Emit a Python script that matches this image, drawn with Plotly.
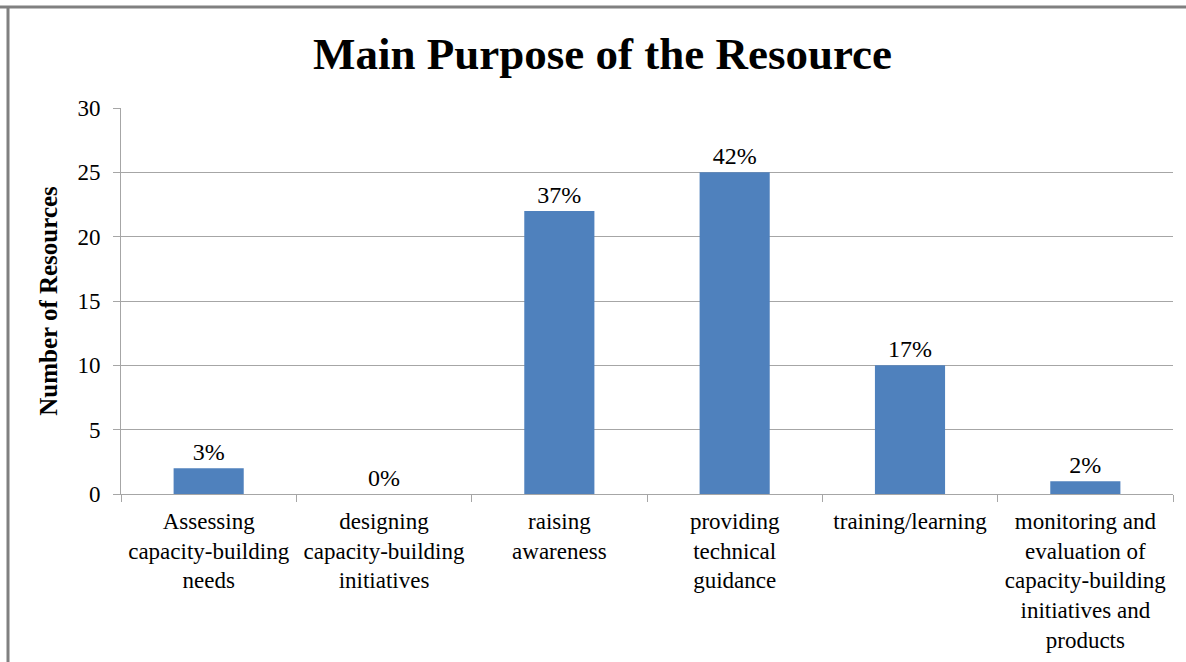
import plotly.graph_objects as go

categories = [
    "Assessing<br>capacity-building<br>needs",
    "designing<br>capacity-building<br>initiatives",
    "raising<br>awareness",
    "providing<br>technical<br>guidance",
    "training/learning",
    "monitoring and<br>evaluation of<br>capacity-building<br>initiatives and<br>products",
]
counts = [2, 0, 22, 25, 10, 1]
pct_labels = ["3%", "0%", "37%", "42%", "17%", "2%"]
y_ticks = [0, 5, 10, 15, 20, 25, 30]

FONT = "Liberation Serif, Times New Roman, serif"
GRID = "#a6a6a6"

fig = go.Figure(
    go.Bar(
        x=categories,
        y=counts,
        text=pct_labels,
        textposition="outside",
        textfont=dict(family=FONT, size=24, color="#000000"),
        marker=dict(color="#4F81BD", line=dict(width=0)),
        width=0.4,
        cliponaxis=False,
    )
)

fig.update_layout(
    width=1186,
    height=662,
    paper_bgcolor="white",
    plot_bgcolor="white",
    margin=dict(l=121, r=13, t=108, b=168),
    showlegend=False,
    font=dict(family=FONT, size=23, color="#000000"),
    title=dict(
        text="<b>Main Purpose of the Resource</b>",
        font=dict(family=FONT, size=45, color="#000000"),
        x=0.508,
        xref="container",
        xanchor="center",
        y=1 - 53 / 662,
        yref="container",
        yanchor="middle",
    ),
    xaxis=dict(
        showgrid=False,
        showline=True,
        linecolor=GRID,
        linewidth=1,
        ticks="outside",
        tickson="boundaries",
        ticklen=7,
        tickcolor=GRID,
        ticklabelstandoff=6,
        tickfont=dict(family=FONT, size=23, color="#000000"),
        tickangle=0,
        automargin=False,
    ),
    yaxis=dict(
        range=[0, 30],
        tickvals=y_ticks,
        showgrid=True,
        gridcolor=GRID,
        gridwidth=1,
        showline=True,
        linecolor=GRID,
        linewidth=1,
        zeroline=False,
        ticks="outside",
        ticklen=7,
        tickcolor=GRID,
        ticklabelstandoff=8,
        tickfont=dict(family=FONT, size=23, color="#000000"),
        automargin=False,
        title=dict(
            text="<b>Number of Resources</b>",
            font=dict(family=FONT, size=25, color="#000000"),
            standoff=12,
        ),
    ),
    bargap=0.6,
    shapes=[
        dict(
            type="line", xref="paper", yref="paper",
            x0=-0.2, x1=1.2,
            y0=1 + (108 - 7) / 386, y1=1 + (108 - 7) / 386,
            line=dict(color="#808080", width=3),
        ),
        dict(
            type="line", xref="paper", yref="paper",
            x0=(8 - 121) / 1052, x1=(8 - 121) / 1052,
            y0=1 + (108 - 7) / 386, y1=-0.6,
            line=dict(color="#808080", width=3),
        ),
    ],
)

fig.write_html(
    "out.html",
    config={"displayModeBar": False},
    post_script="document.body.style.margin='0';document.body.style.padding='0';",
)
